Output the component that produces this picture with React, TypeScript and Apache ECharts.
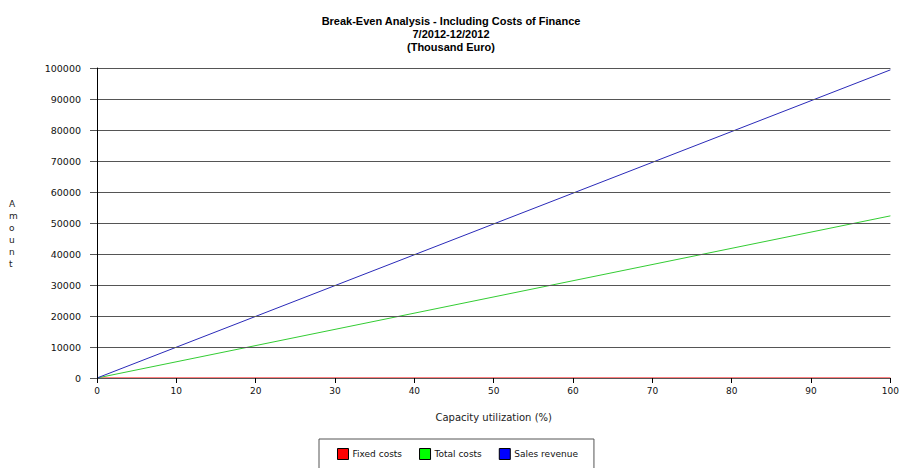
import React, { useEffect, useRef } from "react";
import * as echarts from "echarts";

const titleLines = [
  "Break-Even Analysis - Including Costs of Finance",
  "7/2012-12/2012",
  "(Thousand Euro)",
];
const capacity = [0, 100];
const fixedCosts = [0, 0];
const totalCosts = [0, 52300];
const salesRevenue = [0, 99400];
const seriesNames = ["Fixed costs", "Total costs", "Sales revenue"];
const seriesColors = ["#ff0000", "#00ff00", "#0000ff"];
const lineColors = ["#ff0000", "#33cc33", "#2a2ab8"];

const pairs = (ys: number[]) => capacity.map((x, i) => [x, ys[i]]);

export default function App() {
  const ref = useRef<HTMLDivElement>(null);
  useEffect(() => {
    if (!ref.current) return;
    const chart = echarts.init(ref.current, null, { renderer: "svg" });
    const values = [fixedCosts, totalCosts, salesRevenue];
    chart.setOption({
      animation: false,
      backgroundColor: "#ffffff",
      textStyle: { fontFamily: "DejaVu Sans" },
      title: {
        text: titleLines.join("\n"),
        left: "center",
        top: 9,
        textStyle: {
          fontFamily: "Liberation Sans",
          fontSize: 11,
          fontWeight: "bold",
          lineHeight: 13,
          color: "#000",
        },
      },
      grid: { left: 97, right: 10, top: 68, bottom: 90, containLabel: false },
      xAxis: {
        type: "value",
        min: 0,
        max: 100,
        interval: 10,
        z: 5,
        name: "Capacity utilization (%)",
        nameLocation: "middle",
        nameGap: 34,
        nameTextStyle: { fontFamily: "DejaVu Sans", fontSize: 10, color: "#222" },
        axisLine: { show: true, lineStyle: { color: "#555", width: 1 } },
        axisTick: { show: true, length: 5, lineStyle: { color: "#000" } },
        axisLabel: { fontFamily: "DejaVu Sans", fontSize: 9, color: "#111", margin: 8 },
        splitLine: { show: false },
      },
      yAxis: {
        type: "value",
        min: 0,
        max: 100000,
        interval: 10000,
        z: 5,
        axisLine: { show: true, lineStyle: { color: "#000", width: 1 } },
        axisTick: { show: true, length: 7, lineStyle: { color: "#555" } },
        axisLabel: {
          fontFamily: "DejaVu Sans",
          fontSize: 9.5,
          color: "#111",
          margin: 16,
          formatter: (v: number) => String(v),
        },
        splitLine: { show: true, lineStyle: { color: "#555", width: 1 } },
      },
      legend: {
        left: 319,
        top: 439,
        padding: [9, 16, 20, 18],
        itemGap: 17,
        itemWidth: 11,
        itemHeight: 11,
        icon: "rect",
        borderColor: "#555",
        borderWidth: 1,
        textStyle: { fontFamily: "DejaVu Sans", fontSize: 9, color: "#111", padding: [0, 0, 0, -1] },
        data: seriesNames.map((n, i) => ({
          name: n,
          itemStyle: { color: seriesColors[i], borderColor: "#000", borderWidth: 1 },
        })),
      },
      graphic: [
        {
          type: "text",
          left: 9,
          top: 198,
          style: {
            text: "A\nm\no\nu\nn\nt",
            fontFamily: "DejaVu Sans",
            fontSize: 9,
            lineHeight: 12,
            align: "center",
            fill: "#222",
          },
        },
      ],
      series: values.map((v, i) => ({
        name: seriesNames[i],
        type: "line",
        data: pairs(v),
        showSymbol: false,
        symbol: "none",
        z: 2,
        color: seriesColors[i],
        lineStyle: { color: lineColors[i], width: 1 },
      })),
    });
    return () => chart.dispose();
  }, []);
  return (
    <div
      ref={ref}
      style={{ position: "fixed", left: 0, top: 0, width: 902, height: 468, overflow: "hidden" }}
    />
  );
}
